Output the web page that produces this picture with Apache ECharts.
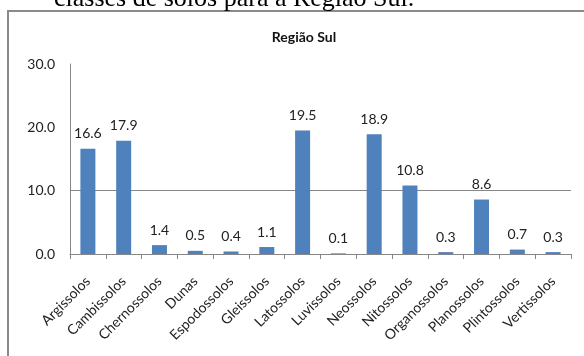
<!DOCTYPE html>
<html>
<head>
<meta charset="utf-8">
<script src="https://cdn.jsdelivr.net/npm/echarts@6/dist/echarts.min.js"></script>
<style>
  html, body { margin: 0; padding: 0; background: #ffffff; }
  #chart { width: 584px; height: 356px; }
</style>
</head>
<body>
<div id="chart"></div>
<script>
// Soil classes of the South region (percent of area)
const categories = [
  'Argissolos', 'Cambissolos', 'Chernossolos', 'Dunas', 'Espodossolos',
  'Gleissolos', 'Latossolos', 'Luvissolos', 'Neossolos', 'Nitossolos',
  'Organossolos', 'Planossolos', 'Plintossolos', 'Vertissolos'
];
const percentValues = [16.6, 17.9, 1.4, 0.5, 0.4, 1.1, 19.5, 0.1, 18.9, 10.8, 0.3, 8.6, 0.7, 0.3];
const yTicks = [0, 10, 20, 30];

const chartTitle = 'Região Sul';
const captionText = 'classes de solos para a Região Sul.';

const uiFont = 'Lato, "Open Sans", sans-serif';
const chart = echarts.init(document.getElementById('chart'));

chart.setOption({
  backgroundColor: '#ffffff',
  animation: false,
  title: {
    text: chartTitle,
    left: 299,
    top: 25,
    textAlign: 'center',
    textStyle: { fontFamily: uiFont, fontSize: 14, fontWeight: 'bold', color: '#111' }
  },
  graphic: [
    {
      type: 'rect',
      shape: { x: 8, y: 11, width: 640, height: 420 },
      style: { fill: 'none', stroke: '#8a8a8a', lineWidth: 2 },
      silent: true
    },
    {
      type: 'text',
      x: 54,
      y: -1,
      style: {
        text: captionText,
        font: '26px "Liberation Serif", "Times New Roman", serif',
        fill: '#000',
        verticalAlign: 'middle'
      },
      silent: true
    }
  ],
  grid: { left: 70, right: 13, top: 64, bottom: 102 },
  xAxis: {
    type: 'category',
    data: categories,
    boundaryGap: true,
    axisLine: { lineStyle: { color: '#868686', width: 1 } },
    axisTick: { show: true, alignWithLabel: false, length: 5, lineStyle: { color: '#868686' } },
    axisLabel: {
      interval: 0,
      rotate: 45,
      margin: 25,
      fontFamily: uiFont,
      fontSize: 14,
      color: '#222'
    }
  },
  yAxis: {
    type: 'value',
    min: yTicks[0],
    max: yTicks[yTicks.length - 1],
    interval: 10,
    axisLine: { show: true, lineStyle: { color: '#868686', width: 1 } },
    axisTick: { show: false },
    axisLabel: {
      margin: 15,
      fontFamily: uiFont,
      fontSize: 14,
      color: '#222',
      formatter: v => v.toFixed(1)
    },
    splitLine: {
      show: true,
      lineStyle: { color: ['transparent', '#868686', 'transparent', 'transparent'], width: 1 }
    }
  },
  series: [
    {
      type: 'bar',
      data: percentValues,
      barWidth: 15,
      itemStyle: { color: '#4f81bd' },
      label: {
        show: true,
        position: 'top',
        distance: 8,
        fontFamily: uiFont,
        fontSize: 14,
        color: '#222',
        formatter: p => p.value.toFixed(1)
      }
    }
  ]
});
</script>
</body>
</html>
